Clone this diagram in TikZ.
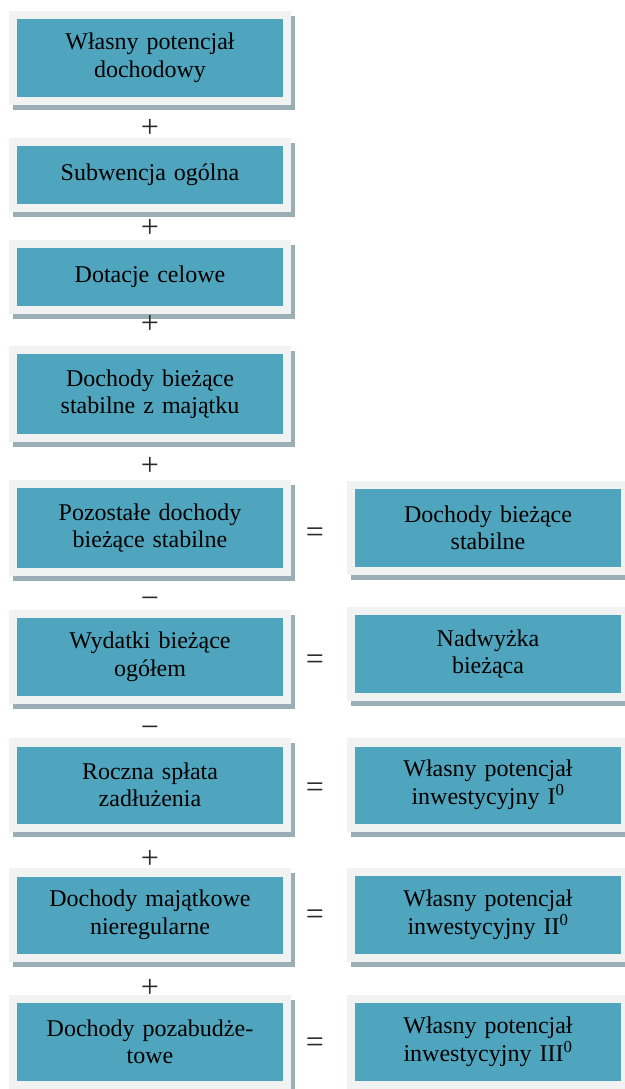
\documentclass[tikz,border=0pt]{standalone}
\usepackage{fontspec}
\setmainfont{Liberation Serif}
\usetikzlibrary{backgrounds}

\definecolor{panelfill}{RGB}{79,165,189}
\definecolor{panelframe}{RGB}{241,243,243}
\definecolor{panelshadow}{RGB}{156,174,181}
\definecolor{optext}{RGB}{40,40,40}

\tikzset{
  panel/.style={fill=panelfill, minimum width=266pt, text width=256pt,
    align=center, inner sep=0pt, font=\fontsize{24}{27.5}\selectfont},
  op/.style={inner sep=0pt, text=optext, font=\fontsize{32}{36}\selectfont},
}

\begin{document}
\begin{tikzpicture}[x=1pt,y=-1pt]
\useasboundingbox (0,0) rectangle (624,1089);

% left column
\node[panel, minimum height=78pt] (l1) at (150,58)   {Własny potencjał\\dochodowy};
\node[panel, minimum height=58pt] (l2) at (150,175)  {Subwencja ogólna};
\node[panel, minimum height=58pt] (l3) at (150,277)  {Dotacje celowe};
\node[panel, minimum height=80pt] (l4) at (150,394)  {Dochody bieżące\\stabilne z majątku};
\node[panel, minimum height=80pt] (l5) at (150,528)  {Pozostałe dochody\\bieżące stabilne};
\node[panel, minimum height=78pt] (l6) at (150,657)  {Wydatki bieżące\\ogółem};
\node[panel, minimum height=77pt] (l7) at (150,785)  {Roczna spłata\\zadłużenia};
\node[panel, minimum height=77pt] (l8) at (150,915)  {Dochody majątkowe\\nieregularne};
\node[panel, minimum height=78pt] (l9) at (150,1042) {Dochody pozabudże-\\towe};

% right column
\node[panel, minimum height=78pt] (r5) at (488,528)  {Dochody bieżące\\stabilne};
\node[panel, minimum height=78pt] (r6) at (488,654)  {Nadwyżka\\bieżąca};
\node[panel, minimum height=77pt] (r7) at (488,785)  {Własny potencjał\\inwestycyjny I\textsuperscript{0}};
\node[panel, minimum height=78pt] (r8) at (488,915)  {Własny potencjał\\inwestycyjny II\textsuperscript{0}};
\node[panel, minimum height=78pt] (r9) at (488,1042) {Własny potencjał\\inwestycyjny III\textsuperscript{0}};

% operators between the panels
\node[op] (o1) at (150,128) {+};
\node[op] (o2) at (150,228) {+};
\node[op] (o3) at (150,324) {+};
\node[op] (o4) at (150,466) {+};
\node[op] (o5) at (150,603) {−};
\node[op] (o6) at (150,732) {−};
\node[op] (o7) at (150,859) {+};
\node[op] (o8) at (150,988) {+};

\node[op] (e5) at (315,535)  {=};
\node[op] (e6) at (315,662)  {=};
\node[op] (e7) at (315,790)  {=};
\node[op] (e8) at (315,917)  {=};
\node[op] (e9) at (315,1045) {=};

% light frames with a drop shadow behind every panel
\begin{scope}[on background layer]
\foreach \n in {l1,l2,l3,l4,l5,l6,l7,l8,l9,r5,r6,r7,r8,r9} {
  \fill[panelshadow] ([xshift=-4pt,yshift=3pt]\n.north west)
    rectangle ([xshift=12pt,yshift=-13pt]\n.south east);
  \fill[panelframe] ([xshift=-8pt,yshift=8pt]\n.north west)
    rectangle ([xshift=8pt,yshift=-8pt]\n.south east);
}
\end{scope}
\end{tikzpicture}
\end{document}
